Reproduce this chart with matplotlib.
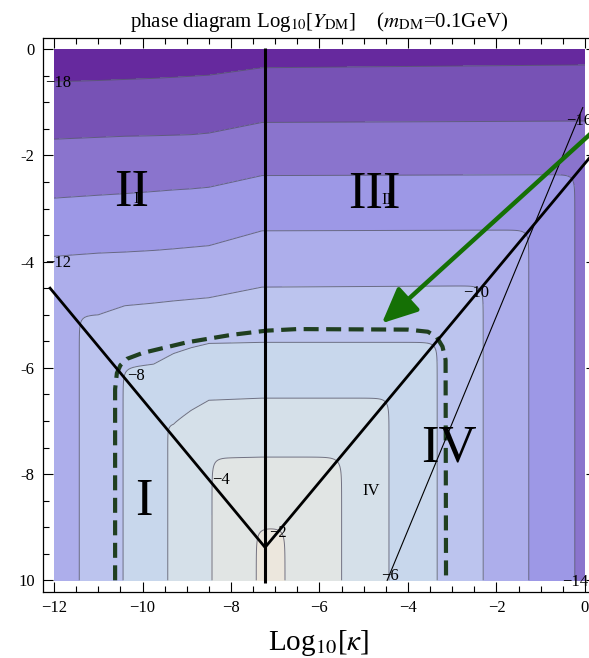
import numpy as np
import matplotlib
matplotlib.use("Agg")
import matplotlib.pyplot as plt

plt.rcParams['font.family'] = ['Liberation Serif', 'DejaVu Serif']
plt.rcParams['mathtext.fontset'] = 'stix'

# contour levels of Log10[Y_DM] and where each level sits
lev = [-20, -18, -16, -14, -12, -10, -8, -6, -4, -2, 0]
left_x = [-16.4, -15.4, -14.4, -13.4, -12.43, -11.43, -10.44, -9.43, -8.43, -7.43, -6.4]
right_x = [2.8, 1.8, 0.8, -0.23, -1.27, -2.3, -3.34, -4.43, -5.5, -6.78, -7.8]
top_xn = [-13, -11, -10.4, -9.75, -9.3, -8.9, -8.5, -7.3, 1]
top_y = [
    [0.5, 0.52, 0.54, 0.56, 0.58, 0.6, 0.62, 0.75, 0.8],
    [-0.64, -0.59, -0.57, -0.55, -0.53, -0.51, -0.49, -0.35, -0.29],
    [-1.73, -1.66, -1.64, -1.63, -1.62, -1.61, -1.58, -1.38, -1.35],
    [-2.86, -2.75, -2.72, -2.68, -2.65, -2.63, -2.6, -2.38, -2.36],
    [-3.96, -3.84, -3.82, -3.79, -3.76, -3.73, -3.7, -3.42, -3.4],
    [-5.1, -5.0, -4.83, -4.78, -4.74, -4.71, -4.68, -4.48, -4.44],
    [-6.05, -6.02, -6.0, -5.93, -5.73, -5.62, -5.54, -5.52, -5.52],
    [-7.1, -7.08, -7.07, -7.06, -7.04, -6.8, -6.61, -6.57, -6.57],
    [-7.74, -7.73, -7.73, -7.72, -7.72, -7.71, -7.7, -7.68, -7.68],
    [-9.02, -9.02, -9.02, -9.02, -9.02, -9.02, -9.02, -9.02, -9.02],
    [-10.4, -10.4, -10.4, -10.4, -10.4, -10.4, -10.4, -10.4, -10.4],
]
band_levels = [-30, -18, -16, -14, -12, -10, -8, -6, -4, -2, 5]
band_colors = ['#66299e', '#7752b5', '#8a74cd', '#9d98e6', '#adaeeb',
               '#bcc4ee', '#c8d7ec', '#d5e0e9', '#e1e5e4', '#ece7dd']
line_levels = [-18, -16, -14, -12, -10, -8, -6, -4, -2]

clab_text = ['\u221218', '\u221216', '\u221214', '\u221212', '\u221210',
             '\u22128', '\u22126', '\u22124', '\u22122']
clab_x = [-11.9, -0.13, -0.22, -11.9, -2.46, -10.15, -4.41, -8.23, -6.94]
clab_y = [-0.64, -1.36, -10.04, -4.03, -4.6, -6.16, -9.92, -8.12, -9.11]

region_big = ['II', 'III', 'I', 'IV']
region_big_x = [-10.25, -4.77, -9.97, -3.07]
region_big_y = [-2.71, -2.75, -8.53, -7.52]
region_small = ['I', 'II', 'IV']
region_small_x = [-10.15, -4.47, -4.84]
region_small_y = [-2.83, -2.84, -8.32]

# boundary lines
vert_x = [-7.23, -7.23]
vert_y = [0.03, -10.05]
v_x = [-12.09, -7.23, 0.1]
v_y = [-4.5, -9.38, -2.05]
thin_x = [-4.47, -0.05]
thin_y = [-10.0, -1.1]
dash_x = [-10.62, -10.62, -10.58, -10.5, -10.35, -10.0, -9.0, -8.0, -7.2, -6.5,
          -4.0, -3.55, -3.35, -3.22, -3.15, -3.14]
dash_y = [-10.0, -6.4, -6.1, -5.95, -5.83, -5.72, -5.52, -5.38, -5.3, -5.27,
          -5.28, -5.32, -5.42, -5.6, -5.85, -10.0]
arrow_tail = (0.25, -1.5)
arrow_tip = (-4.59, -5.16)

# build the field from the read contour positions (soft minimum of three edges)
x = np.linspace(-12, 0, 601)
y = np.linspace(-10, 0, 501)
X, Y = np.meshgrid(x, y)
L = np.interp(X, left_x, lev)
R = np.interp(X, right_x[::-1], lev[::-1])
T = np.zeros_like(X)
top_y = np.array(top_y)
for j, xj in enumerate(x):
    ty = np.array([np.interp(xj, top_xn, row) for row in top_y])
    T[:, j] = np.interp(y, ty[::-1], lev[::-1])
S = np.stack([L, R, T])
m = S.min(axis=0)
k = 0.2
Z = m - k * np.log(np.exp(-(S - m) / k).sum(axis=0))

fig = plt.figure(figsize=(5.89, 6.58), dpi=100)
ax = fig.add_axes([43 / 589, 66 / 658, 553 / 589, 554 / 658])

ax.contourf(X, Y, Z, levels=band_levels, colors=band_colors)
ax.contour(X, Y, Z, levels=line_levels, colors='#55556a', linewidths=0.7,
           linestyles='solid', alpha=0.8)

for t, tx, ty in zip(clab_text, clab_x, clab_y):
    ax.text(tx, ty, t, fontsize=12, ha='center', va='center', clip_on=False)

ax.plot(dash_x, dash_y, color='#203f20', lw=3, dashes=(3.6, 1.8))
ax.plot(vert_x, vert_y, color='black', lw=2.2, solid_capstyle='butt')
ax.plot(v_x, v_y, color='black', lw=2.0)
ax.plot(thin_x, thin_y, color='black', lw=0.8)
ax.annotate('', xy=arrow_tip, xytext=arrow_tail, annotation_clip=False,
            arrowprops=dict(arrowstyle='-|>,head_length=1.2,head_width=0.55',
                            color='#157005', lw=3.2, mutation_scale=18,
                            shrinkA=0, shrinkB=0))

for t, tx, ty in zip(region_big, region_big_x, region_big_y):
    ax.text(tx, ty, t, fontsize=38, ha='center', va='center')
for t, tx, ty in zip(region_small, region_small_x, region_small_y):
    ax.text(tx, ty, t, fontsize=12, ha='center', va='center')

ax.set_xlim(-12.25, 0.25)
ax.set_ylim(-10.22, 0.21)
xt = [-12, -10, -8, -6, -4, -2, 0]
ax.set_xticks(xt)
ax.set_xticklabels(['\u2212%d' % -v if v < 0 else '%d' % v for v in xt])
ax.set_yticks([0, -2, -4, -6, -8, -10])
ax.set_yticklabels(['0', '-2', '-4', '-6', '-8', '10'])
ax.set_xticks(np.arange(-12, 0.01, 0.5), minor=True)
ax.set_yticks(np.arange(-10, 0.01, 0.5), minor=True)
ax.tick_params(which='both', direction='in', top=True, right=True, width=0.8,
               labelsize=12, color='black')
ax.tick_params(which='major', length=7, pad=6)
ax.tick_params(which='minor', length=4)
for s in ax.spines.values():
    s.set_linewidth(0.9)

fig.text(130 / 589, 1 - 27 / 658,
         'phase diagram Log$_{10}$[$Y_{\\mathrm{DM}}$]    ($m_{\\mathrm{DM}}$=0.1GeV)',
         ha='left', va='baseline', fontsize=15)
fig.text(319 / 589, 1 - 650 / 658, 'Log$_{10}$[$\\kappa$]',
         ha='center', va='baseline', fontsize=21)

fig.savefig('out.png', dpi=100)
